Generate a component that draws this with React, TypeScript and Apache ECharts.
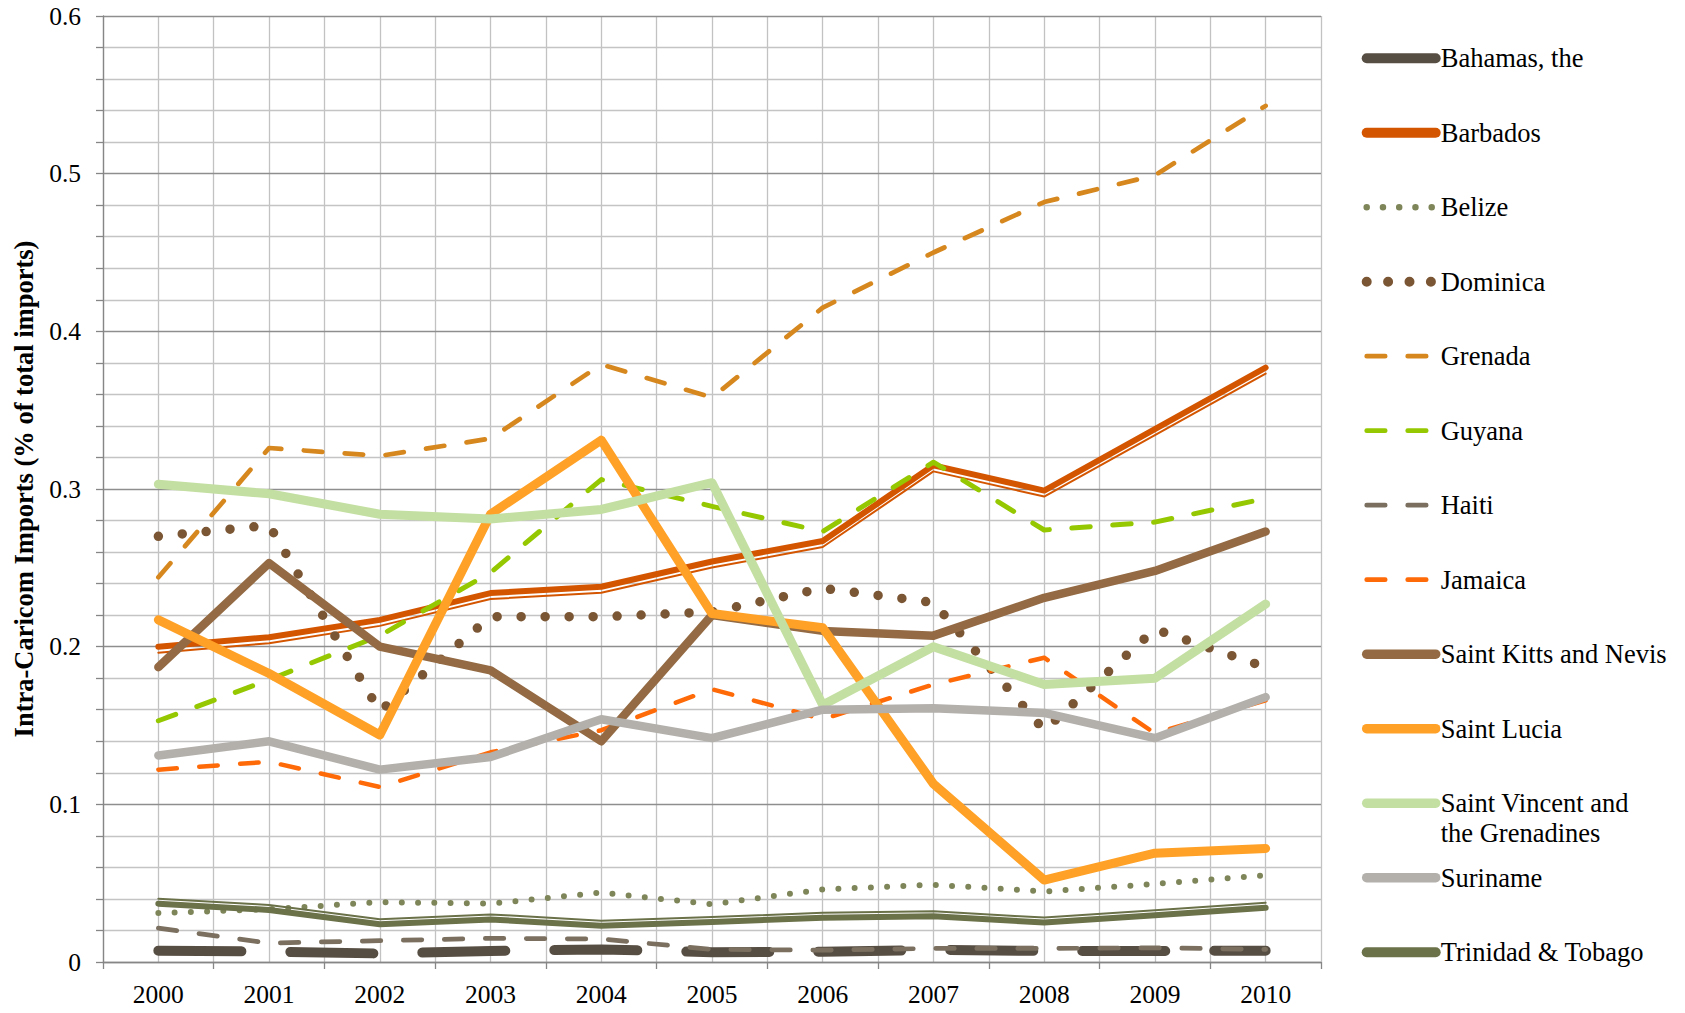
import React, { useEffect, useRef } from "react";
import * as echarts from "echarts";

// ---------- data ----------
const years = ["2000", "2001", "2002", "2003", "2004", "2005", "2006", "2007", "2008", "2009", "2010"];

const bahamas = [0.0072, 0.0066, 0.0054, 0.007, 0.008, 0.0062, 0.0065, 0.0077, 0.007, 0.007, 0.0072];
const barbados = [0.2, 0.206, 0.217, 0.234, 0.238, 0.254, 0.267, 0.315, 0.299, 0.338, 0.377];
const belize = [0.031, 0.0335, 0.038, 0.037, 0.044, 0.0366, 0.046, 0.049, 0.0447, 0.0495, 0.055];
const dominica = [0.27, 0.277, 0.159, 0.219, 0.219, 0.222, 0.237, 0.228, 0.147, 0.211, 0.187];
const grenada = [0.244, 0.326, 0.321, 0.332, 0.379, 0.358, 0.415, 0.45, 0.482, 0.499, 0.543];
const guyana = [0.153, 0.179, 0.207, 0.247, 0.306, 0.289, 0.273, 0.317, 0.274, 0.279, 0.294];
const haiti = [0.0215, 0.012, 0.0135, 0.015, 0.0146, 0.008, 0.0075, 0.0086, 0.0086, 0.009, 0.008];
const jamaica = [0.122, 0.127, 0.111, 0.133, 0.147, 0.173, 0.154, 0.176, 0.193, 0.145, 0.166];
const saintKitts = [0.187, 0.253, 0.2, 0.185, 0.14, 0.22, 0.21, 0.207, 0.231, 0.248, 0.273];
const saintLucia = [0.217, 0.183, 0.144, 0.284, 0.331, 0.221, 0.212, 0.113, 0.052, 0.069, 0.072];
const saintVincent = [0.303, 0.297, 0.284, 0.281, 0.287, 0.304, 0.163, 0.2, 0.176, 0.18, 0.227];
const suriname = [0.131, 0.14, 0.122, 0.13, 0.154, 0.142, 0.16, 0.161, 0.158, 0.142, 0.168];
const trinidad = [0.037, 0.033, 0.024, 0.027, 0.023, 0.0254, 0.028, 0.029, 0.025, 0.0297, 0.0344];

const yAxisTitle = "Intra-Caricom Imports (% of total imports)";

// ---------- styles ----------
const FONT = "'Liberation Serif', 'Times New Roman', serif";
const DASH = [18.5, 22.5];

type Spec = {
  name: string;
  data: number[];
  color: string;
  width: number;
  dash: number[] | "solid";
  legendWidth: number;
  legendDash?: number[] | "solid";
  thinOffset?: number;
  legendLabel?: string;
};

const specs: Spec[] = [
  { name: "Bahamas, the", data: bahamas, color: "#574E43", width: 10, dash: [83, 49], legendWidth: 10, legendDash: "solid" },
  { name: "Barbados", data: barbados, color: "#D45500", width: 6, dash: "solid", legendWidth: 10, thinOffset: 6 },
  { name: "Belize", data: belize, color: "#7E8558", width: 6, dash: [0, 16.25], legendWidth: 6.5 },
  { name: "Dominica", data: dominica, color: "#7B5634", width: 9.5, dash: [0, 24], legendWidth: 10, legendDash: [0, 21.4] },
  { name: "Grenada", data: grenada, color: "#D6881F", width: 4.7, dash: DASH, legendWidth: 4.7 },
  { name: "Guyana", data: guyana, color: "#95C800", width: 5, dash: DASH, legendWidth: 4.7 },
  { name: "Haiti", data: haiti, color: "#7B7060", width: 4.7, dash: DASH, legendWidth: 4.7 },
  { name: "Jamaica", data: jamaica, color: "#FF6A08", width: 4.5, dash: DASH, legendWidth: 4.7 },
  { name: "Saint Kitts and Nevis", data: saintKitts, color: "#936A43", width: 8.5, dash: "solid", legendWidth: 9.5 },
  { name: "Saint Lucia", data: saintLucia, color: "#FFA126", width: 9, dash: "solid", legendWidth: 9.5 },
  { name: "Saint Vincent and the Grenadines", data: saintVincent, color: "#C4DFA2", width: 9, dash: "solid", legendWidth: 9.5, legendLabel: "Saint Vincent and" },
  { name: "Suriname", data: suriname, color: "#B3B0AC", width: 8.5, dash: "solid", legendWidth: 9.5 },
  { name: "Trinidad & Tobago", data: trinidad, color: "#6B7149", width: 6, dash: "solid", legendWidth: 10, thinOffset: -5 },
];

const LEGEND_LINE_X = 1366.7; // where the legend line starts
const LEGEND_ITEM_W = 69;
const LEGEND_FIRST = 58.2;
const LEGEND_STEP = 74.5;
const LEGEND_LINE_H = 30;

function buildOption() {
  const series: any[] = [];
  specs.forEach((s) => {
    if (s.thinOffset) {
      series.push({
        type: "line",
        name: s.name + " (thin)",
        data: s.data,
        symbol: "none",
        silent: true,
        emphasis: { disabled: true },
        lineStyle: {
          color: s.color,
          width: 2,
          cap: "round",
          join: "round",
          shadowColor: s.color,
          shadowBlur: 0,
          shadowOffsetX: 0,
          shadowOffsetY: s.thinOffset,
        },
      });
    }
    series.push({
      type: "line",
      name: s.name,
      data: s.data,
      symbol: "none",
      silent: true,
      emphasis: { disabled: true },
      itemStyle: { color: s.color },
      lineStyle: { color: s.color, width: s.width, type: s.dash, cap: "round", join: "round" },
    });
  });

  const legends = specs.map((s, i) => {
    const center = LEGEND_FIRST + LEGEND_STEP * i;
    return {
      show: true,
      orient: "vertical",
      left: LEGEND_LINE_X - s.legendWidth / 2,
      top: center - LEGEND_LINE_H / 2,
      padding: 0,
      itemWidth: LEGEND_ITEM_W,
      itemHeight: 10,
      selectedMode: false,
      formatter: s.legendLabel ? () => s.legendLabel : undefined,
      textStyle: { fontFamily: FONT, fontSize: 26.5, color: "#000", lineHeight: LEGEND_LINE_H },
      data: [
        {
          name: s.name,
          itemStyle: { color: "rgba(0,0,0,0)", opacity: 0, borderWidth: 0 },
          lineStyle: {
            color: s.color,
            width: s.legendWidth,
            type: s.legendDash ?? s.dash,
            cap: "round",
            join: "round",
            opacity: 1,
          },
        },
      ],
    };
  });

  const svgIndex = specs.findIndex((s) => !!s.legendLabel);
  const secondLineCenter = LEGEND_FIRST + LEGEND_STEP * svgIndex + LEGEND_LINE_H;

  return {
    animation: false,
    backgroundColor: "#fff",
    textStyle: { fontFamily: FONT },
    grid: { left: 103, top: 16, right: 364, bottom: 51, containLabel: false },
    xAxis: [
      {
        type: "category",
        data: years,
        boundaryGap: true,
        axisLine: { show: true, onZero: false, lineStyle: { color: "#868686", width: 1.3 } },
        axisTick: { show: true, interval: 0, length: 7, lineStyle: { color: "#868686", width: 1.3 } },
        axisLabel: { interval: 0, margin: 19, fontFamily: FONT, fontSize: 25.5, color: "#000" },
        splitLine: { show: false },
        z: 3,
      },
      {
        type: "value",
        min: -0.5,
        max: 10.5,
        interval: 0.5,
        position: "top",
        axisLine: { show: false, onZero: false },
        axisTick: { show: false },
        axisLabel: { show: false },
        splitLine: { show: true, lineStyle: { color: "#c2c2c2", width: 1.3 } },
      },
    ],
    yAxis: {
      type: "value",
      min: 0,
      max: 0.6,
      interval: 0.1,
      position: "left",
      name: yAxisTitle,
      nameLocation: "middle",
      nameRotate: 90,
      nameGap: 66,
      nameTextStyle: { fontFamily: FONT, fontSize: 26.5, fontWeight: "bold", color: "#000" },
      axisLine: { show: true, onZero: false, lineStyle: { color: "#868686", width: 1.3 } },
      axisTick: { show: true, length: 7, lineStyle: { color: "#868686", width: 1.3 } },
      minorTick: { show: true, splitNumber: 5, length: 7, lineStyle: { color: "#868686", width: 1.3 } },
      splitLine: { show: true, lineStyle: { color: "#8e8e8e", width: 1.3 } },
      minorSplitLine: { show: true, lineStyle: { color: "#c4c4c4", width: 1.3 } },
      axisLabel: {
        margin: 22,
        fontFamily: FONT,
        fontSize: 25.5,
        color: "#000",
        formatter: (v: number) => (Math.abs(v) < 1e-9 ? "0" : v.toFixed(1)),
      },
      z: 3,
    },
    legend: legends,
    graphic: [
      {
        type: "text",
        left: LEGEND_LINE_X + LEGEND_ITEM_W + 5,
        top: secondLineCenter - LEGEND_LINE_H / 2,
        silent: true,
        style: {
          text: "the Grenadines",
          fontFamily: FONT,
          fontSize: 26.5,
          lineHeight: LEGEND_LINE_H,
          fill: "#000",
        },
      },
    ],
    series,
  };
}

export default function App() {
  const ref = useRef<HTMLDivElement>(null);
  useEffect(() => {
    document.body.style.margin = "0";
    const chart = echarts.init(ref.current as HTMLDivElement, null, { renderer: "svg" });
    chart.setOption(buildOption() as any);
    return () => chart.dispose();
  }, []);
  return (
    <div
      ref={ref}
      style={{ position: "absolute", left: 0, top: 0, width: 1685, height: 1013, background: "#fff" }}
    />
  );
}
